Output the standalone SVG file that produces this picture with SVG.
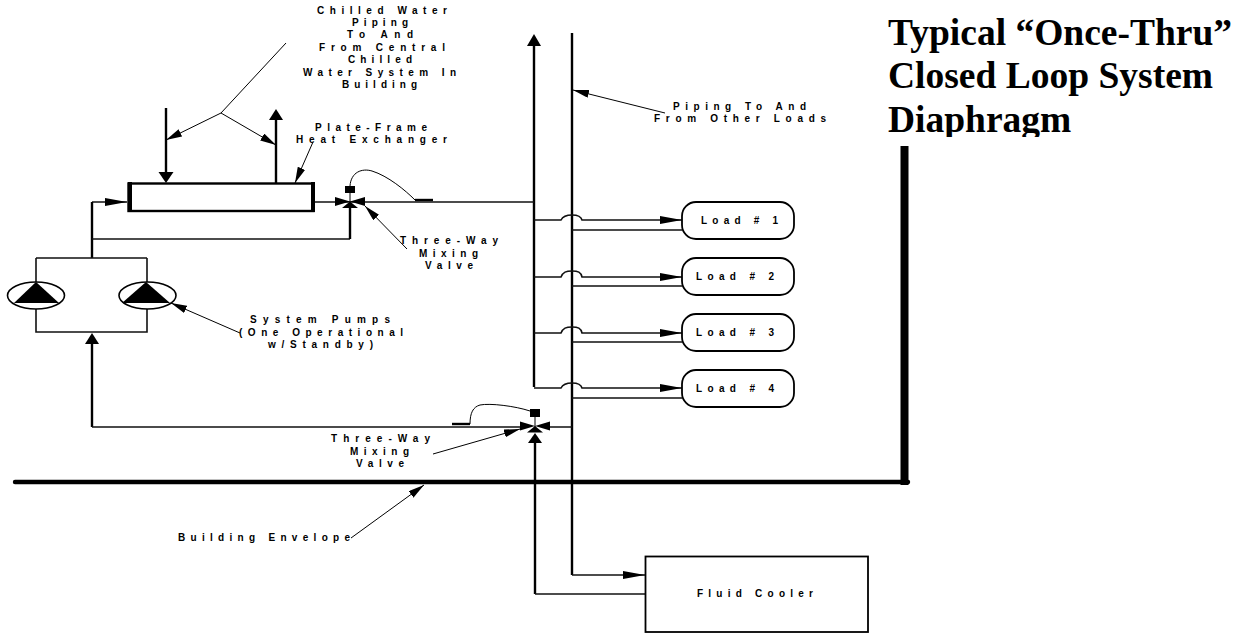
<svg xmlns="http://www.w3.org/2000/svg" width="1244" height="634" viewBox="0 0 1244 634">
<style>
text{font-family:"Liberation Sans",Arial,sans-serif;font-weight:bold;font-size:10px;fill:#000}
.t{font-family:"Liberation Serif","Times New Roman",serif;font-size:37.5px}
.l{fill:none;stroke:#000;stroke-width:1}
.p{fill:none;stroke:#111;stroke-width:1.6}
.h{fill:none;stroke:#000;stroke-width:2.4}
.b{fill:none;stroke:#000;stroke-width:2.4}
.f{fill:#000;stroke:none}
.box{fill:#fff;stroke:#000;stroke-width:1.8}
</style>
<defs>
<clipPath id="titleclip"><rect x="880" y="0" width="364" height="137"/></clipPath>
<marker id="thin" markerUnits="userSpaceOnUse" markerWidth="17" markerHeight="9" refX="16" refY="4" orient="auto"><path d="M0 0L16 4L0 8z"/></marker>
<marker id="feed" markerUnits="userSpaceOnUse" markerWidth="23" markerHeight="9" refX="22" refY="4" orient="auto"><path d="M0 0L22 4L0 8z"/></marker>
</defs>
<g id="connectors">
<path class="h" d="M534 387V44"/><path class="f" d="M527 46L534 34L541 46z"/>
<path class="h" d="M572 33V575"/>
<path class="p" d="M315 202H534"/>
<path class="p" d="M92 202H127" marker-end="url(#feed)"/>
<path class="b" d="M92 258V202"/>
<path class="p" d="M92 239H350"/>
<path class="b" d="M350 208V239"/>
<path class="p" d="M36 258H147M36 258V282M147 258V282M36 309V332H147V309"/>
<path class="b" d="M92 427V343"/><path class="f" d="M85 344L92 333L99 344z"/>
<path class="p" d="M92 427H520M550 427H572"/>
<path class="h" d="M535 443V594"/><path class="f" d="M528 443L535 433L542 443z"/>
<path class="p" d="M535 594H645"/>
<path class="p" d="M572 575H645" marker-end="url(#feed)"/>
<path class="h" d="M166 108V173"/><path class="f" d="M158.500 172L173.500 172L166 183z"/>
<path class="h" d="M276 183V120"/><path class="f" d="M269 120L283 120L276 109z"/>
<path class="h" d="M15 482H908" style="stroke-width:4.4;stroke-linecap:round"/>
<path class="h" d="M904.500 146V485" style="stroke-width:8"/>
<path class="l" d="M286 43L221 113L166 140" marker-end="url(#thin)"/>
<path class="l" d="M221 113L276 145" marker-end="url(#thin)"/>
<path class="l" d="M313 142L295 183" marker-end="url(#thin)"/>
<path class="l" d="M407 249L365 206" marker-end="url(#thin)"/>
<path class="l" d="M433 454L520 429" marker-end="url(#thin)"/>
<path class="l" d="M351 538L424 485" marker-end="url(#thin)"/>
<path class="l" d="M665 113L573 90" marker-end="url(#thin)"/>
<path class="l" d="M240 333L171 303" marker-end="url(#thin)"/>
<path class="p" d="M534 220H561C563 216 566 215 572 215C578 215 581 216 582 220H682" marker-end="url(#feed)"/>
<path class="p" d="M534 277H561C563 272 566 271 572 271C578 271 581 272 582 277H682" marker-end="url(#feed)"/>
<path class="p" d="M534 333H561C563 328 566 327 572 327C578 327 581 328 582 333H682" marker-end="url(#feed)"/>
<path class="p" d="M534 388H561C563 384 566 383 572 383C578 383 581 384 582 388H682" marker-end="url(#feed)"/>
<path class="p" d="M572 230H682M572 286H682M572 342H682M572 398H682"/>
</g>
<g id="heat-exchanger"><rect x="128.500" y="183.500" width="185" height="27.500" fill="#fff" stroke="#000" stroke-width="2.400"/><path class="f" d="M128 182h4v30h-4zM311 182h4v30h-4z"/><text x="315" y="131" textLength="112">Plate-Frame</text><text x="296" y="143" textLength="151">Heat Exchanger</text></g>
<g id="chilled-label"><text x="317" y="14" textLength="130">Chilled Water</text><text x="352" y="26" textLength="56">Piping</text><text x="347" y="38" textLength="66">To And</text><text x="319" y="51" textLength="126">From Central</text><text x="348" y="63" textLength="64">Chilled</text><text x="303" y="76" textLength="153">Water System In</text><text x="342" y="88" textLength="75">Building</text></g>
<g id="valve-upper"><path class="f" d="M335 197L350 201.500L335 206zM365 197L350 201.500L365 206zM350 201.500L358 208H342z"/><rect class="f" x="345" y="186" width="10" height="7"/><path class="l" d="M350 193V202"/><path class="l" d="M350 186C351 172 362 168 372 171C388 176 405 190 415 200"/><path class="b" d="M415 200H433"/><text x="400" y="244" textLength="98">Three-Way</text><text x="419" y="257" textLength="59">Mixing</text><text x="425" y="269" textLength="48">Valve</text></g>
<g id="valve-lower"><path class="f" d="M520 421.500L535 426L520 430.500zM550 421.500L535 426L550 430.500zM535 426L543 432.500H527z"/><rect class="f" x="530" y="409" width="10" height="8"/><path class="l" d="M535 417V427"/><path class="l" d="M530 411C515 406 490 403 480 405C473 407 470 413 470 424"/><path class="b" d="M452 424H470"/><text x="331" y="442" textLength="99">Three-Way</text><text x="350" y="455" textLength="59">Mixing</text><text x="356" y="467" textLength="48">Valve</text></g>
<g id="pump-1"><ellipse cx="36" cy="295.500" rx="28.500" ry="13.500" fill="#fff" stroke="#000" stroke-width="1.600"/><path class="f" d="M36 282L59 303H14z"/></g>
<g id="pump-2"><ellipse cx="147.500" cy="295.500" rx="28.500" ry="13.500" fill="#fff" stroke="#000" stroke-width="1.600"/><path class="f" d="M146 282L170 303H122z"/></g>
<g id="pump-label"><text x="250" y="323" textLength="140">System Pumps</text><text x="239" y="336" textLength="164">(One Operational</text><text x="268" y="348" textLength="105">w/Standby)</text></g>
<g id="load-1"><rect class="box" x="682" y="202" width="112" height="37" rx="14"/><text x="701" y="224" textLength="77">Load # 1</text></g>
<g id="load-2"><rect class="box" x="682" y="258" width="112" height="37" rx="14"/><text x="696" y="280" textLength="78">Load # 2</text></g>
<g id="load-3"><rect class="box" x="682" y="314" width="112" height="37" rx="14"/><text x="696" y="336" textLength="78">Load # 3</text></g>
<g id="load-4"><rect class="box" x="682" y="370" width="112" height="37" rx="14"/><text x="696" y="392" textLength="78">Load # 4</text></g>
<g id="fluid-cooler"><rect class="box" x="645.500" y="556.500" width="222.500" height="75.500"/><text x="697" y="597" textLength="116">Fluid Cooler</text></g>
<g id="labels"><text x="178" y="541" textLength="172">Building Envelope</text><text x="673" y="110" textLength="133">Piping To And</text><text x="654" y="122" textLength="172">From Other Loads</text></g>
<g id="title" clip-path="url(#titleclip)"><text class="t" x="888" y="45">Typical “Once-Thru”</text><text class="t" x="888" y="88">Closed Loop System</text><text class="t" x="888" y="132">Diaphragm</text></g>
</svg>
